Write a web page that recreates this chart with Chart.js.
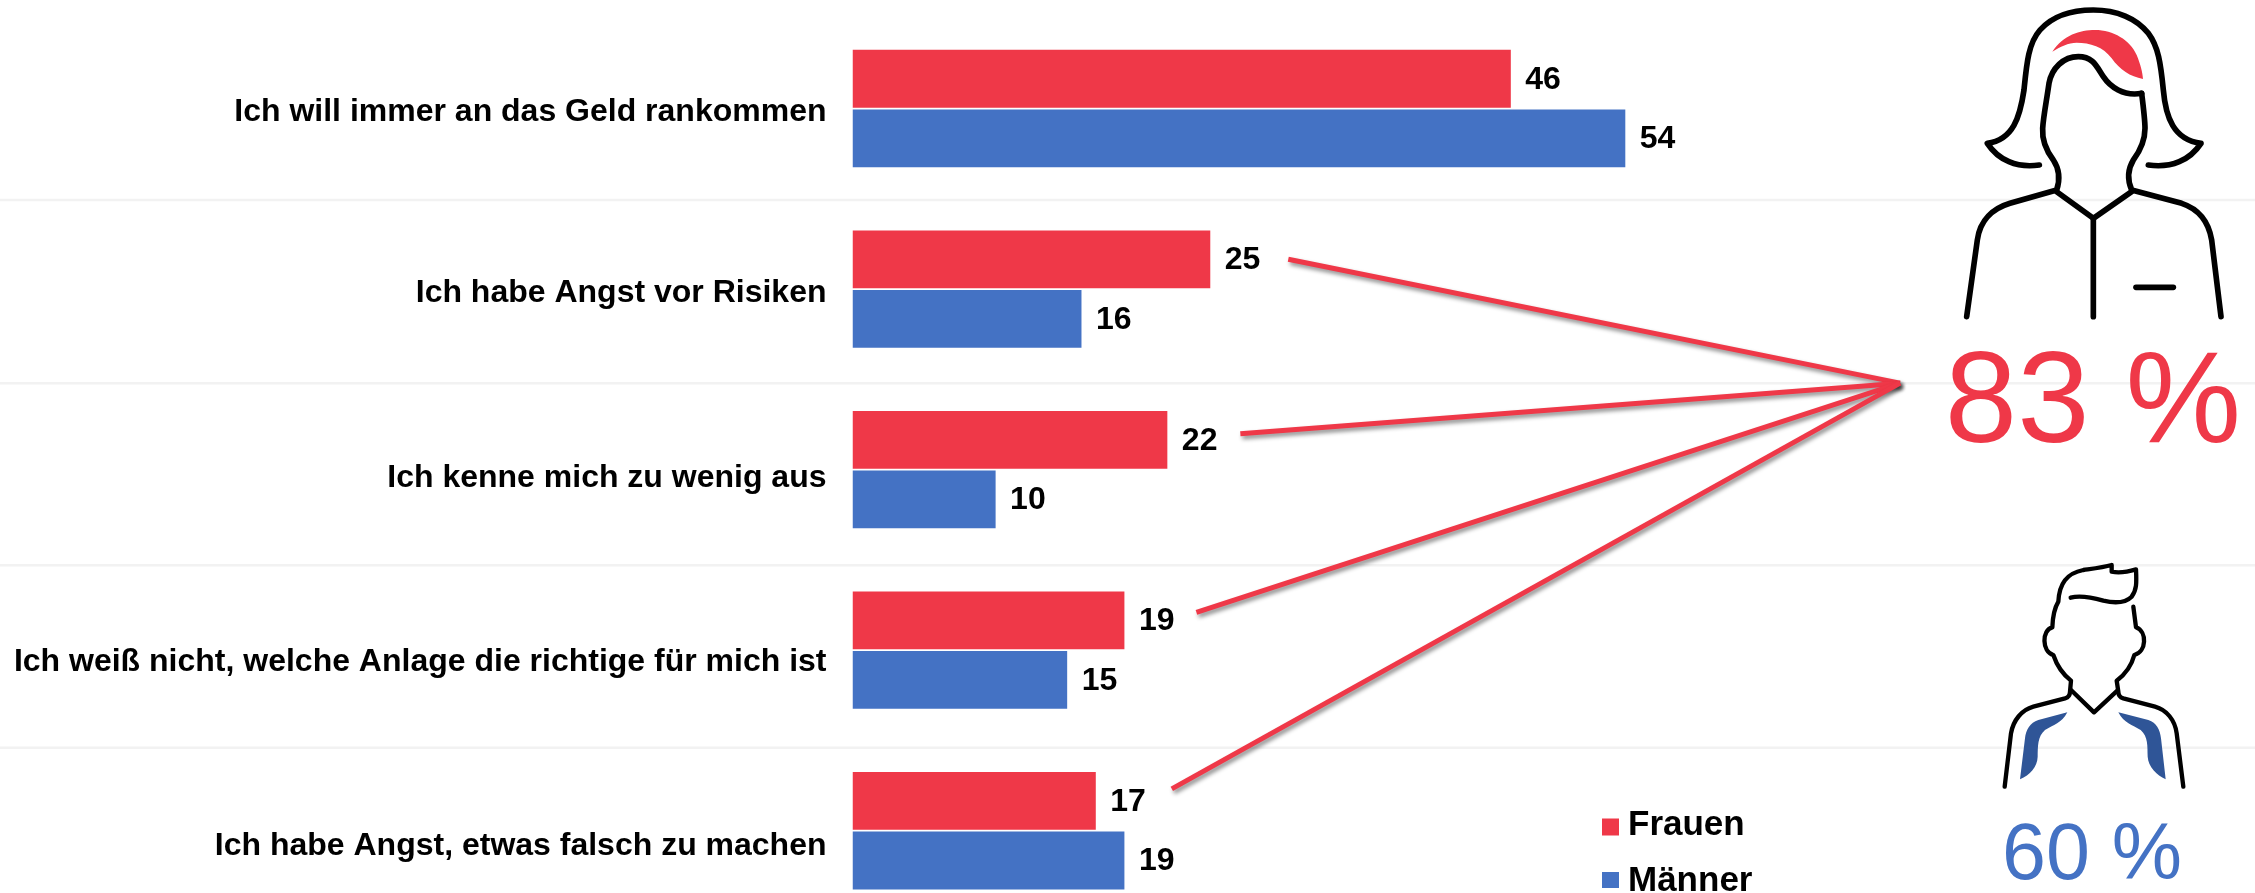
<!DOCTYPE html>
<html lang="de">
<head>
<meta charset="utf-8">
<title>Chart</title>
<script src="https://cdn.jsdelivr.net/npm/chart.js@4"></script>
<style>
html,body{margin:0;padding:0;background:#fff;overflow:hidden;width:2255px;height:893px}
#wrap{width:2255px;height:893px;overflow:hidden;position:relative}
canvas{display:block}
</style>
</head>
<body>
<div id="wrap"><canvas id="c" width="2255" height="921"></canvas></div>
<script>
const categories = [
  "Ich will immer an das Geld rankommen",
  "Ich habe Angst vor Risiken",
  "Ich kenne mich zu wenig aus",
  "Ich weiß nicht, welche Anlage die richtige für mich ist",
  "Ich habe Angst, etwas falsch zu machen"
];
const frauen = [46, 25, 22, 19, 17];
const maenner = [54, 16, 10, 15, 19];
const seriesNames = ["Frauen", "Männer"];
const frauenTotal = "83 %";
const maennerTotal = "60 %";

const RED = "#EF3848", BLUE = "#4472C4", DARKBLUE = "#2F5597", FONT = "'Liberation Sans', Arial, sans-serif";

// Small shifts of the category labels relative to their bands, as in the reference
const labelShift = [3.5, 4.5, 9, 11.5, 15];
// Separator lines, in category-axis units
const separators = [0.507, 1.521, 2.53, 3.54];
// Connector lines: index of the bar, offset of the start from the bar end
const connectorBars = [1, 2, 3, 4];
const connectorDx = [78, 73, 72, 76];
const connectorDy = [0, -6, -8, -12];
const apexValue = 73.2, apexCategory = 1.521;

const woman = {
  strokes: [
    "M418 495C350 505 295 480 262 430C340 420 360 350 372 270C380 190 385 130 420 90C460 45 520 30 580 30C650 30 710 55 745 100C775 140 782 190 790 270C797 350 820 420 903 430C870 480 815 505 745 495",
    "M725 280C670 290 630 260 610 230C590 200 580 170 535 170C490 170 455 205 447 250C440 300 430 350 428 385C425 430 445 460 460 480C480 510 480 540 470 570L330 610C280 625 240 660 232 720L200 950",
    "M725 280C730 320 735 360 735 385C735 430 715 460 700 480C682 510 682 540 695 570L845 610C890 625 925 660 935 720L963 950",
    "M470 575L580 655L695 575", "M580 655L580 950", "M708 862L820 862"
  ],
  fill: ["M457 155C490 105 540 90 585 90C640 90 690 120 710 165C722 195 727 215 729 237C690 230 660 210 635 175C610 140 570 128 530 128C505 128 480 140 457 155Z"]
};
const man = {
  strokes: [
    "M512 173C540 165 575 172 610 182C645 190 675 190 695 170C710 150 710 130 708 88C685 95 660 100 635 95L635 75C610 82 585 85 550 90C500 100 478 130 475 185C460 210 458 235 457 262C425 270 425 335 460 345C470 375 485 400 513 422L510 455C510 465 505 472 495 475L400 500C365 510 340 540 333 580L314 740",
    "M700 200L708 262C742 275 740 335 703 345C695 375 680 400 650 422L655 455C655 465 660 472 670 475L765 500C800 510 825 540 830 580L850 740",
    "M513 450L582 517L652 452"
  ],
  fill: [
    "M502 517L415 540C390 548 378 570 375 595L360 718C390 705 412 680 413 650C414 620 412 590 435 570C460 555 485 550 502 517Z",
    "M655 517L745 540C770 548 780 570 783 595L797 718C770 705 745 680 743 650C742 620 745 590 722 570C697 555 672 550 655 517Z"
  ]
};

function drawIcon(ctx, icon, ox, oy, fillColor, lw) {
  ctx.save();
  ctx.translate(ox, oy);
  ctx.scale(1 / 3, 1 / 3);
  ctx.fillStyle = fillColor;
  icon.fill.forEach(d => ctx.fill(new Path2D(d)));
  ctx.strokeStyle = "#000";
  ctx.lineWidth = lw;
  ctx.lineCap = "round";
  ctx.lineJoin = "round";
  icon.strokes.forEach(d => ctx.stroke(new Path2D(d)));
  ctx.restore();
}

const decorations = {
  id: "decorations",
  beforeDraw(chart) {
    const items = chart.scales.y.getLabelItems();
    if (!items._shifted) {
      items.forEach((it, i) => { it.options.translation[1] += labelShift[i]; });
      items._shifted = true;
    }
  },
  beforeDatasetsDraw(chart) {
    const { ctx, scales: { y } } = chart;
    ctx.save();
    ctx.strokeStyle = "#F2F2F2";
    ctx.lineWidth = 2.5;
    separators.forEach(s => {
      const py = y.getPixelForValue(s);
      ctx.beginPath(); ctx.moveTo(0, py); ctx.lineTo(chart.width, py); ctx.stroke();
    });
    ctx.restore();
  },
  afterDatasetsDraw(chart) {
    const { ctx, scales: { x, y } } = chart;
    const m0 = chart.getDatasetMeta(0), m1 = chart.getDatasetMeta(1);

    // value labels
    ctx.save();
    ctx.fillStyle = "#000";
    ctx.font = "bold 32px " + FONT;
    ctx.textAlign = "left";
    ctx.textBaseline = "middle";
    [[m0, frauen], [m1, maenner]].forEach(([m, vals]) => {
      m.data.forEach((b, i) => ctx.fillText(String(vals[i]), b.x + 14.5, b.y + 1));
    });
    ctx.restore();

    // connectors
    ctx.save();
    ctx.strokeStyle = RED;
    ctx.lineWidth = 5;
    ctx.lineCap = "butt";
    ctx.shadowColor = "rgba(0,0,0,0.45)";
    ctx.shadowBlur = 4;
    ctx.shadowOffsetX = 2;
    ctx.shadowOffsetY = 3;
    const ax = x.getPixelForValue(apexValue), ay = y.getPixelForValue(apexCategory);
    connectorBars.forEach((bi, i) => {
      const b = m0.data[bi];
      ctx.beginPath();
      ctx.moveTo(b.x + connectorDx[i], b.y + connectorDy[i]);
      ctx.lineTo(ax, ay);
      ctx.stroke();
    });
    ctx.restore();

    // legend
    ctx.save();
    ctx.font = "bold 35px " + FONT;
    ctx.textAlign = "left";
    ctx.textBaseline = "middle";
    const legendY = [827, 880], legendSize = [17, 16], legendTextY = [825.5, 881];
    chart.data.datasets.forEach((d, i) => {
      ctx.fillStyle = d.backgroundColor;
      ctx.fillRect(1602, legendY[i] - legendSize[i] / 2, 17, legendSize[i]);
      ctx.fillStyle = "#000";
      ctx.fillText(d.label, 1628, legendTextY[i]);
    });
    ctx.restore();

    // icons and totals
    drawIcon(ctx, woman, 1900, 0, RED, 17);
    drawIcon(ctx, man, 1900, 540, DARKBLUE, 13);
    ctx.save();
    ctx.textAlign = "center";
    ctx.textBaseline = "alphabetic";
    ctx.fillStyle = RED;
    ctx.font = "130px " + FONT;
    ctx.fillText(frauenTotal, 2093, 442);
    ctx.fillStyle = BLUE;
    ctx.font = "79px " + FONT;
    ctx.fillText(maennerTotal, 2092, 879);
    ctx.restore();
  }
};

new Chart(document.getElementById("c"), {
  type: "bar",
  data: {
    labels: categories,
    datasets: [
      { label: seriesNames[0], data: frauen, backgroundColor: RED, categoryPercentage: 0.66, barPercentage: 0.97 },
      { label: seriesNames[1], data: maenner, backgroundColor: BLUE, categoryPercentage: 0.66, barPercentage: 0.97 }
    ]
  },
  options: {
    indexAxis: "y",
    responsive: false,
    animation: false,
    layout: { padding: { top: 18.25, left: 0, right: 0, bottom: 0 } },
    plugins: { legend: { display: false }, tooltip: { enabled: false } },
    scales: {
      x: { display: false, min: 0, max: 98 },
      y: {
        afterFit(s) { s.width = 852.5; s.paddingTop = 0; s.paddingBottom = 0; },
        grid: { display: false, drawTicks: false },
        border: { display: false },
        ticks: { color: "#000", padding: 26, font: { family: FONT, size: 32, weight: "bold" }, autoSkip: false }
      }
    }
  },
  plugins: [decorations]
});
</script>
</body>
</html>
